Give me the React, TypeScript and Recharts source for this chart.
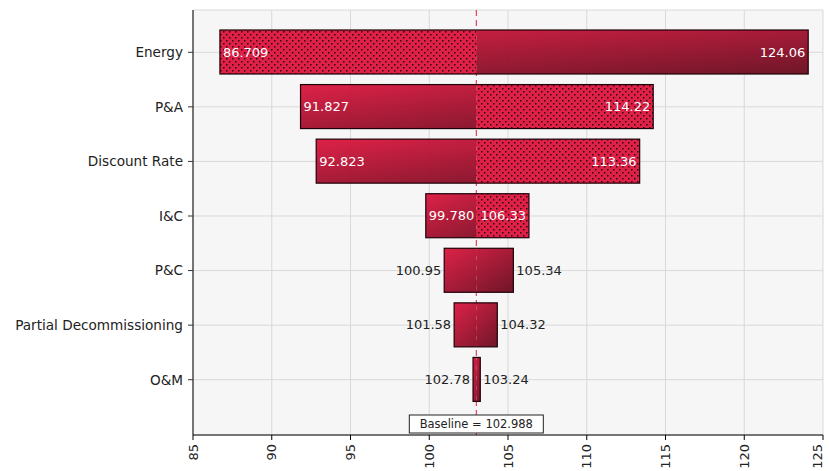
import React from "react";
import {
  BarChart,
  Bar,
  XAxis,
  YAxis,
  CartesianGrid,
  ReferenceLine,
} from "recharts";

const categories = [
  "Energy",
  "P&A",
  "Discount Rate",
  "I&C",
  "P&C",
  "Partial Decommissioning",
  "O&M",
];
const lowValues = [86.709, 91.827, 92.823, 99.78, 100.95, 101.58, 102.78];
const highValues = [124.06, 114.22, 113.36, 106.33, 105.34, 104.32, 103.24];
const lowLabels = ["86.709", "91.827", "92.823", "99.780", "100.95", "101.58", "102.78"];
const highLabels = ["124.06", "114.22", "113.36", "106.33", "105.34", "104.32", "103.24"];
const dottedSides = ["left", "right", "right", "right", "none", "none", "none"];
const xTicks = [85, 90, 95, 100, 105, 110, 115, 120, 125];
const BASELINE = 102.988;

const data = categories.map((name, i) => ({
  name,
  low: lowValues[i],
  high: highValues[i],
  lowLabel: lowLabels[i],
  highLabel: highLabels[i],
  dotted: dottedSides[i],
}));

const FONT = "DejaVu Sans";

const textW = (s: string) => {
  let w = 0;
  for (const c of s) w += c === "." ? 0.318 : 0.636;
  return w * 13;
};

const TornadoBar = (props: any) => {
  const { x, y, width, height, payload, index } = props;
  if (width == null || !payload) return null;
  const { low, high, lowLabel, highLabel, dotted } = payload;
  const bx = x + (width * (BASELINE - low)) / (high - low);
  const gid = `grad-${index}`;
  const leftW = bx - x;
  const rightW = x + width - bx;
  const cy = y + height / 2;
  const lowInside = leftW >= textW(lowLabel) + 4;
  const highInside = rightW >= textW(highLabel) + 4;
  return (
    <g>
      <defs>
        <linearGradient
          id={gid}
          gradientUnits="userSpaceOnUse"
          x1={0}
          y1={0}
          x2={1}
          y2={1}
          gradientTransform={`translate(${x} ${y}) scale(${width} ${height})`}
        >
          <stop offset="0%" stopColor="#dc163e" />
          <stop offset="100%" stopColor="#680a1d" />
        </linearGradient>
      </defs>
      <rect
        x={x}
        y={y}
        width={leftW}
        height={height}
        fill={dotted === "left" ? "url(#dots)" : `url(#${gid})`}
        fillOpacity={0.95}
      />
      <rect
        x={bx}
        y={y}
        width={rightW}
        height={height}
        fill={dotted === "right" ? "url(#dots)" : `url(#${gid})`}
        fillOpacity={0.95}
      />
      <rect
        x={x}
        y={y}
        width={width}
        height={height}
        fill="none"
        stroke="#1e0208"
        strokeWidth={1.2}
      />
      <text
        x={lowInside ? x + 3 : x - 3}
        y={cy}
        textAnchor={lowInside ? "start" : "end"}
        dominantBaseline="central"
        fontSize={13}
        fontFamily={FONT}
        fill={lowInside ? "#ffffff" : "#222222"}
      >
        {lowLabel}
      </text>
      <text
        x={highInside ? x + width - 3 : x + width + 3}
        y={cy}
        textAnchor={highInside ? "end" : "start"}
        dominantBaseline="central"
        fontSize={13}
        fontFamily={FONT}
        fill={highInside ? "#ffffff" : "#222222"}
      >
        {highLabel}
      </text>
    </g>
  );
};

const XTick = (props: any) => {
  const { x, y, payload } = props;
  return (
    <text
      x={x}
      y={y + 2}
      transform={`rotate(-90, ${x}, ${y + 2})`}
      textAnchor="end"
      dominantBaseline="central"
      fontSize={13}
      fontFamily={FONT}
      fill="#222"
    >
      {payload.value}
    </text>
  );
};

const BaselineLabel = (props: any) => {
  const vb = props.viewBox || {};
  const cx = vb.x;
  const bottom = vb.y + vb.height;
  const w = 134;
  const h = 18;
  return (
    <g>
      <rect
        x={cx - w / 2}
        y={bottom - h - 2}
        width={w}
        height={h}
        fill="#ffffff"
        stroke="#222"
        strokeWidth={1}
      />
      <text
        x={cx}
        y={bottom - h / 2 - 2}
        textAnchor="middle"
        dominantBaseline="central"
        fontSize={11.5}
        fontFamily={FONT}
        fill="#222"
      >
        {`Baseline = ${BASELINE.toFixed(3)}`}
      </text>
    </g>
  );
};

export default function App() {
  return (
    <div style={{ position: "absolute", left: 0, top: 0, background: "#fff" }}>
      <BarChart
        width={829}
        height={471}
        data={data}
        layout="vertical"
        margin={{ top: 10, right: 6, bottom: 0, left: 0 }}
        style={{ fontFamily: FONT }}
      >
        <defs>
          <pattern id="dots" patternUnits="userSpaceOnUse" width={6} height={6}>
            <rect x={0} y={0} width={6} height={6} fill="#e0143e" />
            <rect x={1} y={1} width={1.5} height={1.5} fill="#1a0005" />
            <rect x={4} y={4} width={1.5} height={1.5} fill="#1a0005" />
          </pattern>
        </defs>
        <CartesianGrid stroke="#d9d9d9" fill="#f6f6f6" />
        <CartesianGrid
          horizontal={false}
          verticalValues={[BASELINE]}
          stroke="#e0204a"
          strokeDasharray="6 4"
          fill="none"
        />
        <XAxis
          type="number"
          domain={[85, 125]}
          ticks={xTicks}
          allowDataOverflow
          height={36}
          tickSize={5}
          tick={<XTick />}
          axisLine={{ stroke: "#000" }}
          tickLine={{ stroke: "#000" }}
        />
        <YAxis
          type="category"
          dataKey="name"
          width={193}
          interval={0}
          tickSize={5}
          tickMargin={5}
          padding={{ top: 15, bottom: 28 }}
          axisLine={{ stroke: "#000" }}
          tickLine={{ stroke: "#333" }}
          tick={{ fill: "#222", fontSize: 13.6, fontFamily: FONT }}
        />
        <ReferenceLine
          x={BASELINE}
          stroke="none"
          label={BaselineLabel}
        />
        <Bar
          dataKey={(d: any) => [d.low, d.high]}
          barSize={44}
          shape={TornadoBar}
          isAnimationActive={false}
        />
      </BarChart>
    </div>
  );
}
